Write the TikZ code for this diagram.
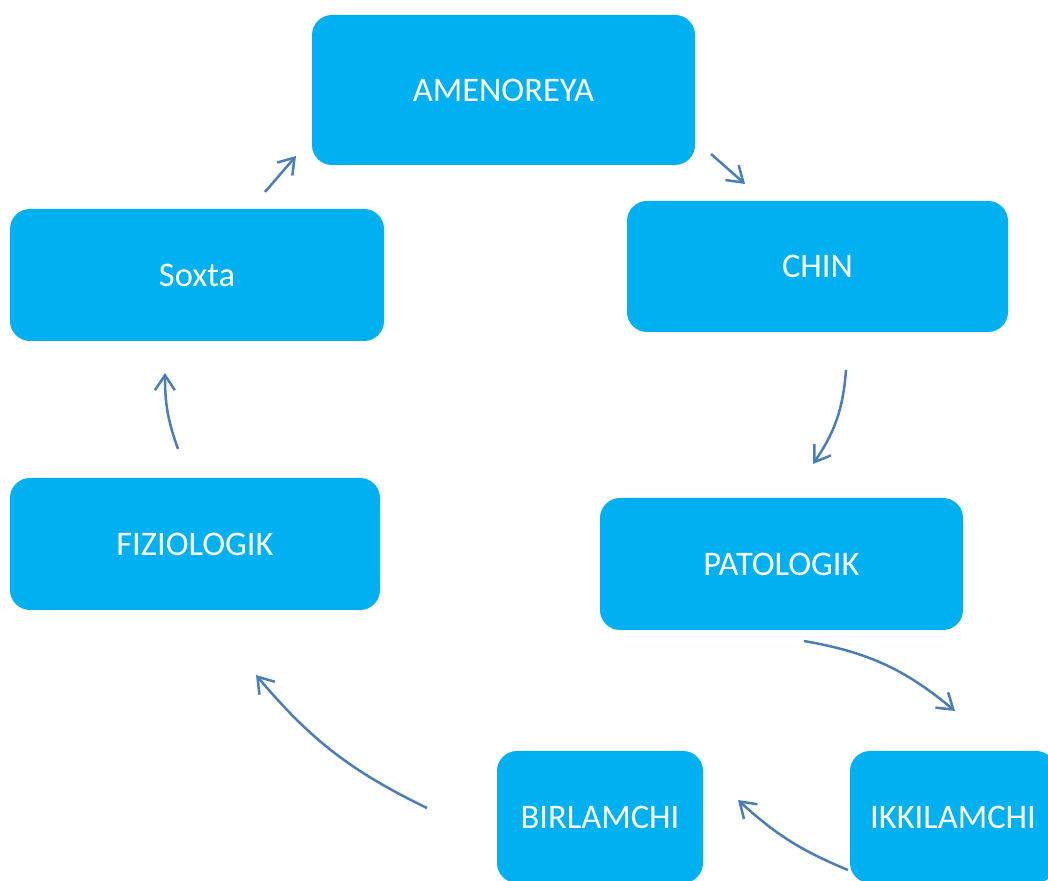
\documentclass[tikz,border=0pt]{standalone}
\usepackage{fontspec}
\setmainfont{Carlito}
\usetikzlibrary{arrows.meta}
\definecolor{boxblue}{HTML}{00B0F0}
\definecolor{arrowblue}{HTML}{4A7EBB}

\begin{document}
\begin{tikzpicture}[x=1pt,y=1pt,-{Straight Barb[length=15pt,width=20pt]},line width=2.5pt,
    stage node/.style={fill=boxblue,draw=none,rounded corners=20pt,text=white,inner sep=0pt,align=center,font=\fontsize{34.5}{41}\selectfont}]
                \useasboundingbox (0,0) rectangle (1048,880);
                \clip (0,0) rectangle (1048,880);
                \node[stage node,minimum width=383pt,minimum height=150pt] (amen) at (503.5,790) {AMENOREYA};
                \node[stage node,minimum width=381pt,minimum height=131pt] (chin) at (817.5,613.5) {CHIN};
                \node[stage node,minimum width=374pt,minimum height=132pt] (soxta) at (197,605) {Soxta};
                \node[stage node,minimum width=370pt,minimum height=132pt] (fiz) at (195,336) {FIZIOLOGIK};
                \node[stage node,minimum width=363pt,minimum height=132pt] (pat) at (781.5,316) {PATOLOGIK};
                \node[stage node,minimum width=206pt,minimum height=132pt] (bir) at (600,63) {BIRLAMCHI};
                \node[stage node,minimum width=206pt,minimum height=132pt] (ikk) at (953,63) {IKKILAMCHI};

                % arrow ends
                \coordinate (soxta out) at (265,688);
                \coordinate (amen in) at (296,724);
                \coordinate (amen out) at (711,726);
                \coordinate (chin in) at (745,696);
                \coordinate (chin out) at (846,510);
                \coordinate (pat in) at (813,416);
                \coordinate (pat out) at (804,239);
                \coordinate (ikk in) at (955,169);
                \coordinate (ikk out) at (848,10);
                \coordinate (bir in) at (738,80);
                \coordinate (bir out) at (427,72);
                \coordinate (fiz in) at (256,205);
                \coordinate (fiz out) at (178,431);
                \coordinate (soxta in) at (165,507);

                \path[color=arrowblue]
                    (soxta out) edge (amen in)
                    (amen out) edge (chin in)
                    (chin out) edge[bend left=15] (pat in)
                    (pat out) edge[bend left=15] (ikk in)
                    (ikk out) edge[bend left=10] (bir in)
                    (bir out) edge[bend left=12] (fiz in)
                    (fiz out) edge[bend left=10] (soxta in)
                ;
            \end{tikzpicture}
\end{document}
